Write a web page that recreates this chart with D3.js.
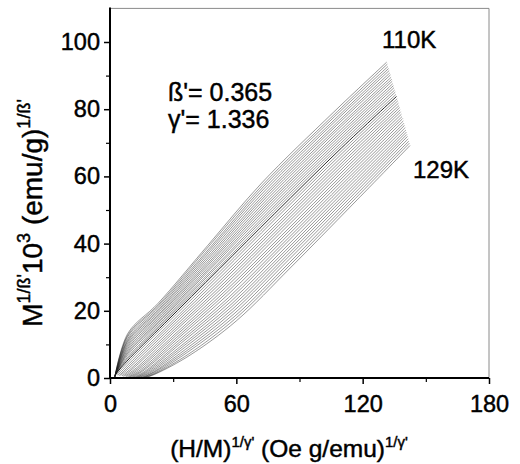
<!DOCTYPE html>
<html><head><meta charset="utf-8">
<script src="https://cdn.jsdelivr.net/npm/d3@7"></script>
<style>
body{margin:0;background:#fff}
svg text{font-family:"Liberation Sans",Arial,Helvetica,sans-serif;fill:#000;stroke:#000;stroke-width:0.45px}
</style>
</head><body>
<svg id="chart" width="520" height="464"></svg>
<script>
// Isotherm temperatures (K), 110 K (top) to 129 K (bottom)
const temperatures = [110,110.5,111,111.5,112,112.5,113,113.5,114,114.5,115,115.5,116,116.5,117,117.5,118,118.5,119,119.5,120,120.5,121,121.5,122,122.5,123,123.5,124,124.5,125,125.5,126,126.5,127,127.5,128,128.5,129];

// Points of each isotherm at seven applied-field steps (F0 lowest field ... F6 highest)
// x = (H/M)^(1/gamma'), y = M^(1/beta') / 10^3
const xF0 = [2.2,2.2,2.2,2.3,2.3,2.3,2.3,2.3,2.4,2.4,2.4,2.4,2.4,2.4,2.5,2.5,2.5,3.1,3.8,4.4,5.0,5.7,6.3,7.0,7.6,8.2,8.9,9.5,10.1,10.8,11.4,12.0,12.7,13.3,14.0,14.6,15.2,15.9,16.5];
const yF0 = [0.0,0.1,0.1,0.2,0.3,0.3,0.4,0.4,0.5,0.6,0.6,0.7,0.8,0.8,0.9,0.9,1.0,0.9,0.8,0.7,0.7,0.6,0.5,0.5,0.4,0.3,0.3,0.3,0.2,0.2,0.1,0.1,0.1,0.1,0.0,0.0,0.0,0.0,0.0];
const xF1 = [8.5,8.5,8.4,8.4,8.4,8.3,8.3,8.3,8.3,8.2,8.2,8.2,8.1,8.1,8.1,8.0,8.0,8.6,9.3,9.9,10.5,11.2,11.8,12.5,13.1,13.7,14.4,15.0,15.6,16.3,16.9,17.5,18.2,18.8,19.5,20.1,20.7,21.4,22.0];
const yF1 = [13.3,12.8,12.3,11.7,11.2,10.7,10.2,9.7,9.2,8.6,8.1,7.6,7.1,6.6,6.0,5.5,5.0,4.7,4.4,4.1,3.8,3.5,3.3,3.0,2.8,2.6,2.4,2.2,2.1,1.9,1.8,1.7,1.6,1.5,1.4,1.4,1.3,1.3,1.3];
const xF2 = [22.8,23.0,23.2,23.4,23.6,23.8,24.0,24.2,24.4,24.6,24.8,25.0,25.2,25.4,25.6,25.8,26.0,26.5,27.1,27.6,28.2,28.7,29.3,29.8,30.4,30.9,31.5,32.0,32.5,33.1,33.6,34.2,34.7,35.3,35.8,36.4,36.9,37.5,38.0];
const yF2 = [22.2,21.8,21.5,21.1,20.7,20.4,20.0,19.6,19.3,18.9,18.5,18.1,17.8,17.4,17.0,16.7,16.3,15.9,15.4,15.0,14.6,14.1,13.7,13.3,12.8,12.4,12.0,11.6,11.1,10.7,10.3,9.8,9.4,9.0,8.5,8.1,7.7,7.2,6.8];
const xF3 = [46.5,46.8,47.2,47.5,47.9,48.2,48.6,48.9,49.3,49.6,49.9,50.3,50.6,51.0,51.3,51.7,52.0,52.4,52.7,53.1,53.5,53.8,54.2,54.5,54.9,55.3,55.6,56.0,56.4,56.7,57.1,57.5,57.8,58.2,58.5,58.9,59.3,59.6,60.0];
const yF3 = [39.5,39.1,38.6,38.2,37.8,37.3,36.9,36.4,36.0,35.6,35.1,34.7,34.3,33.8,33.4,32.9,32.5,31.8,31.1,30.4,29.7,29.0,28.3,27.6,26.9,26.2,25.5,24.8,24.0,23.3,22.6,21.9,21.2,20.5,19.8,19.1,18.4,17.7,17.0];
const xF4 = [72.0,72.4,72.8,73.1,73.5,73.9,74.3,74.6,75.0,75.4,75.8,76.1,76.5,76.9,77.3,77.6,78.0,78.4,78.7,79.1,79.5,79.8,80.2,80.5,80.9,81.3,81.6,82.0,82.4,82.7,83.1,83.5,83.8,84.2,84.5,84.9,85.3,85.6,86.0];
const yF4 = [58.0,57.4,56.9,56.3,55.7,55.1,54.6,54.0,53.4,52.8,52.3,51.7,51.1,50.5,50.0,49.4,48.8,48.1,47.4,46.6,45.9,45.2,44.5,43.8,43.1,42.3,41.6,40.9,40.2,39.5,38.7,38.0,37.3,36.6,35.9,35.2,34.4,33.7,33.0];
const xF5 = [106.0,106.3,106.5,106.8,107.0,107.3,107.5,107.8,108.0,108.3,108.5,108.8,109.0,109.3,109.5,109.8,110.0,110.2,110.5,110.7,110.9,111.1,111.4,111.6,111.8,112.0,112.3,112.5,112.7,113.0,113.2,113.4,113.6,113.9,114.1,114.3,114.5,114.8,115.0];
const yF5 = [79.0,78.3,77.7,77.0,76.4,75.7,75.1,74.4,73.8,73.1,72.4,71.8,71.1,70.5,69.8,69.2,68.5,67.7,67.0,66.2,65.4,64.6,63.9,63.1,62.3,61.5,60.8,60.0,59.2,58.5,57.7,56.9,56.1,55.4,54.6,53.8,53.0,52.3,51.5];
const xF6 = [131.4,131.7,132.0,132.3,132.6,132.9,133.2,133.5,133.8,134.0,134.3,134.6,134.9,135.2,135.5,135.8,136.1,136.4,136.7,137.0,137.3,137.6,137.8,138.1,138.4,138.7,139.0,139.3,139.6,139.9,140.2,140.5,140.8,141.0,141.3,141.6,141.9,142.2,142.5];
const yF6 = [94.0,93.4,92.7,92.1,91.5,90.8,90.2,89.5,88.9,88.3,87.6,87.0,86.4,85.7,85.1,84.4,83.8,83.1,82.5,81.8,81.1,80.5,79.8,79.2,78.5,77.8,77.2,76.5,75.8,75.2,74.5,73.8,73.2,72.5,71.9,71.2,70.5,69.9,69.2];

const xTicks = [0, 60, 120, 180];
const xMinorTicks = [30, 90, 150];
const yTicks = [0, 20, 40, 60, 80, 100];
const yMinorTicks = [10, 30, 50, 70, 90];
const criticalTemperature = 118;

const xCols = [xF0, xF1, xF2, xF3, xF4, xF5, xF6];
const yCols = [yF0, yF1, yF2, yF3, yF4, yF5, yF6];
const isotherms = temperatures.map((T, i) => ({
  T, pts: xCols.map((xc, k) => [xc[i], yCols[k][i]])
}));

const svg = d3.select("#chart");
const L = 110, R = 489, T0 = 8.4, B = 378;
const x = d3.scaleLinear().domain([0, 180]).range([L, R]);
const y = d3.scaleLinear().domain([0, 110]).range([B, T0]);

// frame (top/right)
svg.append("path").attr("d", `M${L},${T0}H${R}V${B}`)
  .attr("fill", "none").attr("stroke", "#8a8a8a").attr("stroke-width", 1);

// curves
const line = d3.line().x(d => x(d[0])).y(d => y(d[1])).curve(d3.curveCatmullRom.alpha(0.5));
svg.append("g").selectAll("path").data(isotherms).join("path")
  .attr("d", d => line(d.pts))
  .attr("fill", "none")
  .attr("stroke", d => d.T === criticalTemperature ? "#111" : "#1a1a1a")
  .attr("stroke-width", d => d.T === criticalTemperature ? 0.9 : 0.45);

// axes
const fs = 23.5;
const gx = svg.append("g").attr("transform", `translate(0,${B})`)
  .call(d3.axisBottom(x).tickValues(xTicks).tickSize(6).tickSizeOuter(0).tickPadding(11).tickFormat(d3.format("d")));
const gxm = svg.append("g").attr("transform", `translate(0,${B})`)
  .call(d3.axisBottom(x).tickValues(xMinorTicks).tickSize(4).tickSizeOuter(0).tickFormat(""));
const gy = svg.append("g").attr("transform", `translate(${L},0)`)
  .call(d3.axisLeft(y).tickValues(yTicks).tickSize(6).tickSizeOuter(0).tickPadding(4).tickFormat(d3.format("d")));
const gym = svg.append("g").attr("transform", `translate(${L},0)`)
  .call(d3.axisLeft(y).tickValues(yMinorTicks).tickSize(4).tickSizeOuter(0).tickFormat(""));
[gx, gy].forEach(g => {
  g.select(".domain").attr("stroke", "#000").attr("stroke-width", 2);
  g.selectAll(".tick line").attr("stroke", "#000").attr("stroke-width", 1.5);
  g.selectAll(".tick text").attr("font-size", fs).attr("font-family", null).attr("fill", "#000");
});
[gxm, gym].forEach(g => {
  g.select(".domain").remove();
  g.selectAll(".tick line").attr("stroke", "#000").attr("stroke-width", 1.2);
});
gy.select(".domain").attr("d", `M0,${B + 1}V${T0 - 1}`);
gx.select(".domain").attr("d", `M${L - 1},0H${R}`);

// y title
const yt = svg.append("text").attr("transform", "translate(42,213) rotate(-90)")
  .attr("text-anchor", "middle").attr("font-size", 28);
yt.append("tspan").text("M");
yt.append("tspan").attr("font-size", 18).attr("dy", -12).text("1/ß'");
yt.append("tspan").attr("dy", 12).text("10");
yt.append("tspan").attr("font-size", 18).attr("dy", -12).text("3");
yt.append("tspan").attr("dy", 12).text(" (emu/g)");
yt.append("tspan").attr("font-size", 18).attr("dy", -12).text("1/ß'");

// x title
const xt = svg.append("text").attr("x", 289).attr("y", 457)
  .attr("text-anchor", "middle").attr("font-size", 24.5);
xt.append("tspan").text("(H/M)");
xt.append("tspan").attr("font-size", 15).attr("dy", -10).text("1/γ'");
xt.append("tspan").attr("dy", 10).text(" (Oe g/emu)");
xt.append("tspan").attr("font-size", 15).attr("dy", -10).text("1/γ'");

// annotations
svg.append("text").attr("x", 168).attr("y", 101).attr("font-size", 25).text("ß'= 0.365");
svg.append("text").attr("x", 168).attr("y", 128).attr("font-size", 25).text("γ'= 1.336");
svg.append("text").attr("x", 382).attr("y", 48).attr("font-size", 24).text(temperatures[0] + "K");
svg.append("text").attr("x", 413).attr("y", 178).attr("font-size", 24).text(temperatures[temperatures.length - 1] + "K");
</script>
</body></html>
